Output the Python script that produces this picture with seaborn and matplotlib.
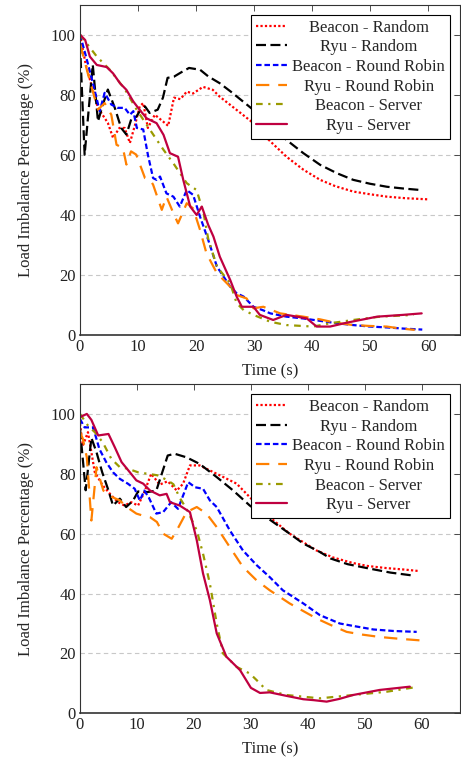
import matplotlib
matplotlib.use("Agg")
import matplotlib.pyplot as plt
import seaborn as sns

# ---- data (time in s, imbalance in %) ----
labels = ["Beacon - Random", "Ryu - Random", "Beacon - Round Robin",
          "Ryu - Round Robin", "Beacon - Server", "Ryu - Server"]

# top panel
top_t_beacon_random = [0, 1, 2, 3.1, 4.8, 5.7, 6.8, 7.7, 8.6, 9.5, 10.3, 10.9, 11.7, 12.9, 14.6, 15.2,
                       16.2, 17.3, 18.4, 19.5, 21.2, 22.9, 24.1, 27.6, 29.9, 32.5, 35.6, 38.5,
                       41.4, 44, 47.1, 50, 52.9, 56, 60]
top_v_beacon_random = [100, 90, 83, 75.6, 70.6, 65.6, 68.9, 68.9, 63.9, 70, 76.1, 77.2, 68.9, 73.3, 70.6, 69.6,
                       79, 78.5, 81, 80.4, 82.6, 81.6, 79.3, 74, 70.5, 65, 59.3, 55,
                       51.6, 49.5, 47.7, 46.8, 46, 45.5, 45.1]

top_t_ryu_random = [0, 0.8, 2.2, 3.1, 4, 4.8, 6, 7.1, 8, 8.9, 9.7, 10.3, 11.2, 12, 13.4, 14.3, 15.1,
                    16.2, 17.5, 18.8, 20.7, 22.1, 24.1, 26, 27.6, 29.9, 32.8, 35.6, 38.5, 41.4,
                    44.3, 47.1, 50, 52.9, 55.8, 58.8]
top_v_ryu_random = [97, 60, 90, 71.1, 77, 81.7, 75.6, 68.9, 66.7, 72.2, 72.6, 74.5, 76.1, 73.9, 75, 79, 85.6,
                    86, 87.5, 88.9, 88.3, 86.1, 83.8, 81, 78.5, 74.9, 69.9, 64.9, 60.5, 56.6,
                    53.8, 51.6, 50.3, 49.3, 48.7, 48.2]

top_t_beacon_rr = [0, 1, 2, 3.4, 4.25, 5.4, 6.5, 7.7, 8.6, 9.2, 9.8, 10.9, 11.7, 12.6, 13.2, 13.8,
                   14.9, 16.1, 17.2, 18.4, 19.5, 20.7, 22.1, 23.6, 25.9, 27, 28.2, 29.9, 31.6,
                   32.8, 35.6, 38.5, 41.4, 44.3, 47.1, 50, 53, 56, 59]
top_v_beacon_rr = [100, 93, 85.6, 74.5, 80.6, 76.7, 75.6, 75.6, 73.3, 74.5, 68.9, 68.4, 60, 52.2, 51.6, 52.7,
                   47.1, 46, 42.7, 48.2, 46.6, 39.3, 31.6, 22.7, 16, 13.8, 12.7, 9.3, 8.1,
                   7.1, 6, 5.4, 4.6, 3.8, 3.2, 2.7, 2.4, 2, 1.7]

top_t_ryu_rr = [0, 1.4, 3.1, 4.25, 5.4, 6.3, 7.4, 8, 8.8, 9.7, 11.2, 12.1, 12.6, 14.1, 14.9, 16.1,
                16.9, 18.4, 19.5, 20.7, 21.8, 23.6, 25.9, 27, 28.7, 29.9, 31.6, 34.5, 38.5,
                41.4, 44, 47.1, 50, 52.9, 55, 57.7]
top_v_ryu_rr = [97, 86.7, 75, 77.2, 73.3, 63.3, 62.2, 56.7, 61.1, 60, 52.2, 51.6, 50, 41.6, 46, 40.5,
                37.1, 43.8, 42.1, 34.9, 27.1, 20.5, 16, 13.2, 12.1, 8.8, 9.3, 7.1, 6,
                5.1, 4, 3.2, 2.9, 2.7, 2.1, 1.6]

top_t_beacon_server = [0, 2.9, 5.2, 7.8, 9.8, 12.1, 14.4, 16.1, 18.4, 20.1, 21.3, 22.1, 23.6, 25.9,
                       27, 28.2, 29.9, 32.8, 35.6, 40.2, 43.1, 47.1, 51.7, 57.5]
top_v_beacon_server = [100, 92.7, 88.2, 81.6, 74.9, 68.2, 61.6, 57.1, 50.5, 48.2, 40.5, 32, 22.7, 17.1,
                       10.5, 8.2, 6.6, 4.3, 3.2, 2.7, 3.8, 4.9, 6, 6.6]

top_t_ryu_server = [0, 0.9, 1.7, 2.9, 4.6, 5.7, 6.9, 8, 9.2, 10.3, 11.5, 13.2, 14.4, 15.5, 16.9,
                    17.8, 19, 20.1, 21, 22.1, 23, 24.1, 25.9, 27, 27.9, 29.9, 31, 33.3, 35.6,
                    37.4, 39.1, 40.8, 43.1, 46, 51.2, 55.7, 58.9]
top_v_ryu_server = [100, 98.2, 92.7, 89.9, 89.2, 87.1, 83.8, 81.6, 77.7, 74.9, 72.1, 70.5, 66.6, 60.5, 59.3,
                    51.6, 42.7, 39.9, 42.7, 36.6, 32.7, 26, 18.2, 12.7, 9.3, 9.3, 6.6, 4.9, 6.6,
                    6, 5.4, 2.7, 2.7, 4, 6, 6.6, 7.1]

# bottom panel
bot_t_beacon_random = [0, 0.5, 1.4, 2.6, 4, 5.5, 6.7, 7.8, 9, 10.2, 11.3, 12.5, 14, 15.4, 17, 18.1,
                       19.3, 21, 24, 27.5, 29.8, 33.3, 36.8, 41.5, 44.5, 47.9, 50.5, 53.8, 57, 59.6]
bot_v_beacon_random = [96.7, 89.4, 93.9, 80.5, 76.1, 72.8, 70.5, 69.4, 70.5, 69.4, 73.9, 80, 76.4, 77.5, 74.4, 76.7,
                       82.8, 82.8, 80, 76.7, 72.2, 65.5, 60, 54.4, 52, 50.2, 49.2, 48.5, 48, 47.5]

bot_t_ryu_random = [0, 1, 2, 2.9, 3.9, 4.9, 5.8, 7, 8.1, 9.3, 10.2, 11.9, 13.4, 15.4, 16.6, 18.7,
                    21, 24, 26.9, 29.8, 32.7, 36.8, 39.2, 42.1, 44, 47, 50.9, 54.5, 58.5]
bot_v_ryu_random = [95, 74.5, 92, 87.2, 80.5, 75, 69.4, 71.7, 68.9, 71, 74.1, 73.9, 74.4, 86.1, 86.7, 85.5,
                    83.3, 78.9, 74.4, 69.4, 65.5, 60, 56.7, 53.9, 51.7, 49.8, 48.3, 47, 46]

bot_t_beacon_rr = [0, 0.8, 2.3, 3.4, 4.6, 5.8, 7, 8.4, 9.6, 10.5, 11.3, 12.1, 13.4, 14.6, 16, 17.2,
                   19, 20.2, 21.6, 22.8, 24, 26.3, 28.6, 31, 33.3, 35.6, 39.2, 42.1, 45.6, 48.5,
                   51.5, 55, 59.1]
bot_v_beacon_rr = [98.3, 95.5, 95.5, 88.3, 83.9, 80.5, 78.3, 76.7, 75, 71.1, 74.4, 72, 66.7, 67.2, 70.5, 68.3,
                   77.2, 75.5, 75, 71.1, 68.9, 61.1, 54.4, 49.5, 45.5, 41.1, 36.7, 32.8, 30, 29,
                   28, 27.5, 27.2]

bot_t_ryu_rr = [0, 0.5, 1.2, 2, 2.9, 4.1, 5.3, 7, 8.2, 9.9, 11.1, 12.3, 13.5, 14.6, 16.1, 17.3,
                18.7, 20.5, 22.2, 24, 26.3, 28.6, 31, 33.3, 36.8, 41.5, 44, 46.8, 49.5, 52.6,
                56, 60.8]
bot_v_ryu_rr = [94, 91.7, 85.5, 64.4, 82.2, 74.4, 72.5, 71.1, 68.9, 66.7, 66, 65.5, 63.9, 60, 58.3, 62.2,
                67.2, 68.9, 66.7, 62.2, 55.5, 48.9, 44.4, 41.1, 36.7, 31.7, 29.5, 27.2, 26.3, 25.5,
                24.9, 24.2]

bot_t_beacon_server = [0, 1.4, 2.6, 4, 5.5, 7, 8.4, 10.2, 11.9, 13.6, 15.4, 16.4, 17.5, 18.7, 20.5,
                       21.6, 22.8, 24, 25.1, 27.5, 29.8, 31, 32.7, 36.3, 42.1, 47.9, 53.8, 58.8]
bot_v_beacon_server = [100, 96.1, 93.9, 90.5, 85, 82.2, 81.7, 80.5, 80, 79.5, 77.8, 76.5, 72, 68.3, 61.1,
                       53.3, 43.3, 30, 20, 15.5, 13.3, 11.1, 7.8, 6.1, 5, 6.1, 7.2, 8.7]

bot_t_ryu_server = [0, 1.2, 2, 3.2, 5, 6.1, 7.3, 8.5, 9.9, 11.1, 12.3, 14, 15.2, 15.8, 17.5, 19.3,
                    20.5, 21.6, 22.8, 24, 25.7, 28.1, 30, 31.6, 33.3, 36.3, 39.2, 41, 43.3, 45.5,
                    47.9, 52.6, 57.9]
bot_v_ryu_server = [98.9, 100, 98, 92.8, 93.3, 88.9, 83.9, 81.1, 77.8, 76.7, 74.4, 72.8, 73.3, 70.5, 69.4, 67.2,
                    57.8, 46.7, 37.8, 26.7, 18.9, 14.4, 8.5, 6.8, 7.0, 5.8, 4.7, 4.4, 3.9, 4.8,
                    6.1, 7.8, 8.9]

colors = ["#ff0000", "#000000", "#0000ff", "#ff8000", "#9a9a00", "#bf0040"]
styles = [(0, (1, 1)), (0, (4.5, 2)), (0, (2.5, 1.3)), (0, (6, 4)), (0, (3, 2.5, 1, 2.5)), "-"]

top_series = [(top_t_beacon_random, top_v_beacon_random), (top_t_ryu_random, top_v_ryu_random),
              (top_t_beacon_rr, top_v_beacon_rr), (top_t_ryu_rr, top_v_ryu_rr),
              (top_t_beacon_server, top_v_beacon_server), (top_t_ryu_server, top_v_ryu_server)]
bot_series = [(bot_t_beacon_random, bot_v_beacon_random), (bot_t_ryu_random, bot_v_ryu_random),
              (bot_t_beacon_rr, bot_v_beacon_rr), (bot_t_ryu_rr, bot_v_ryu_rr),
              (bot_t_beacon_server, bot_v_beacon_server), (bot_t_ryu_server, bot_v_ryu_server)]

sns.set_theme(style="white")
plt.rcParams["font.family"] = ["Liberation Serif", "DejaVu Serif"]
plt.rcParams["font.size"] = 12

fig = plt.figure(figsize=(4.61, 7.62), dpi=100)
ax_top = fig.add_axes([0.1735, 0.5608, 0.8243, 0.4331])
ax_bot = fig.add_axes([0.1735, 0.0639, 0.8243, 0.4322])

legends = []
for ax, series, xmax in [(ax_top, top_series, 65.5), (ax_bot, bot_series, 66.7)]:
    for (t, v), lab, c, ls in zip(series, labels, colors, styles):
        sns.lineplot(x=t, y=v, ax=ax, color=c, linestyle=ls, linewidth=1.6, label=lab, sort=False)
    ax.set_xlim(0, xmax)
    ax.set_ylim(0, 110)
    ax.set_xticks([0, 10, 20, 30, 40, 50, 60])
    ax.set_yticks([0, 20, 40, 60, 80, 100])
    for y in [20, 40, 60, 80, 100]:
        ax.axhline(y, color="#c8c8c8", linestyle=(0, (4, 3)), linewidth=0.8, zorder=0)
    ax.tick_params(direction="in", top=True, right=True, length=4, width=0.6,
                   labelsize=12, colors="#333333", labelcolor="#222222", pad=3)
    for s in ax.spines.values():
        s.set_color("#333333")
        s.set_linewidth(0.8)
    ax.spines["bottom"].set_linewidth(1.2)
    ax.set_xlabel("Time (s)", fontsize=12, labelpad=6)
    ax.set_ylabel("Load Imbalance Percentage (%)", fontsize=12, labelpad=12)
    leg = ax.legend(loc="upper right", fontsize=12, frameon=True, fancybox=False,
                    edgecolor="black", framealpha=1, handlelength=1.9, handletextpad=0.3,
                    labelspacing=0.22, borderpad=0.3, borderaxespad=0.6)
    leg.get_frame().set_linewidth(0.8)
    legends.append(leg)

# centre the legend labels inside their column, as in the original
fig.canvas.draw()
renderer = fig.canvas.get_renderer()
for leg in legends:
    texts = leg.get_texts()
    widths = [t.get_window_extent(renderer).width for t in texts]
    wmax = max(widths)
    for t, w in zip(texts, widths):
        t.set_x((wmax - w) / 2)

fig.savefig("out.png", dpi=100)
